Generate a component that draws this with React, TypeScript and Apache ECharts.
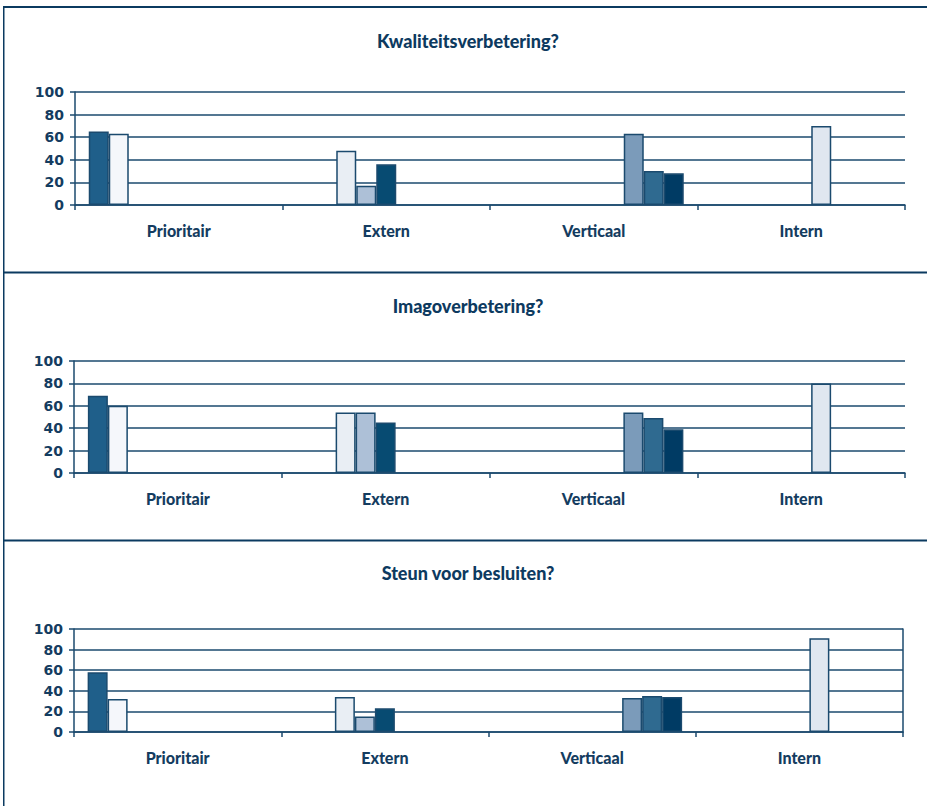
import React, { useEffect, useRef } from "react";
import * as echarts from "echarts";

const categories = ["Prioritair", "Extern", "Verticaal", "Intern"];
const titles = ["Kwaliteitsverbetering?", "Imagoverbetering?", "Steun voor besluiten?"];
const yTicks = [0, 20, 40, 60, 80, 100];

// values per panel (panel 1, panel 2, panel 3)
const prioritairA = [65, 69, 58];
const prioritairB = [63, 60, 32];
const externA = [48, 54, 34];
const externB = [17, 54, 15];
const externC = [36, 45, 23];
const internA = [70, 80, 91];
const verticaalA = [63, 54, 33];
const verticaalB = [30, 49, 35];
const verticaalC = [28, 39, 34];

// slot order inside each category group, with the category each belongs to
const slotValues = [prioritairA, prioritairB, externA, externB, externC, internA, verticaalA, verticaalB, verticaalC];
const slotCategory = [0, 0, 1, 1, 1, 3, 2, 2, 2];
const slotColors = ["#1f5f8a", "#f5f7fb", "#e9eef4", "#adc0d7", "#074b72", "#e0e7f0", "#7b9bba", "#2f6a90", "#003b64"];

const DARK = "#1b4a6e";
const TEXT = "#143c60";

const grids = [
  { left: 75, top: 92, height: 113, right: 22 },
  { left: 74, top: 361, height: 112, right: 22 },
  { left: 74, top: 629, height: 103, right: 24 },
];
const titleTops = [27, 292, 559];

export default function App() {
  const ref = useRef<HTMLDivElement>(null);
  useEffect(() => {
    if (!ref.current) return;
    const chart = echarts.init(ref.current, null, { renderer: "svg" });
    const xAxis: any[] = [];
    const yAxis: any[] = [];
    const series: any[] = [];
    grids.forEach((g, p) => {
      xAxis.push({
        type: "category",
        gridIndex: p,
        data: categories,
        axisLine: { show: true, lineStyle: { color: DARK, width: 1.5 } },
        axisTick: { show: true, length: 5, lineStyle: { color: DARK, width: 1.5 } },
        axisLabel: {
          color: TEXT,
          fontFamily: "Lato",
          fontWeight: 900,
          fontSize: 16,
          margin: 17,
        },
      });
      yAxis.push({
        type: "value",
        gridIndex: p,
        min: 0,
        max: 100,
        interval: 20,
        axisLine: { show: true, lineStyle: { color: DARK, width: 1.5 } },
        axisTick: { show: true, length: 5, lineStyle: { color: DARK, width: 1.5 } },
        splitLine: { show: true, lineStyle: { color: DARK, width: 1.5 } },
        axisLabel: {
          color: TEXT,
          fontFamily: "DejaVu Sans",
          fontWeight: "bold",
          fontSize: 14,
          margin: 11,
          formatter: (v: number) => (yTicks.includes(v) ? String(v) : ""),
        },
      });
      slotValues.forEach((vals, s) => {
        series.push({
          type: "bar",
          xAxisIndex: p,
          yAxisIndex: p,
          barWidth: 20,
          barGap: "0%",
          data: categories.map((_, c) => (c === slotCategory[s] ? vals[p] : null)),
          itemStyle: { color: slotColors[s], borderColor: DARK, borderWidth: 1.5 },
        });
      });
    });
    // right edge line of the last panel
    yAxis.push({
      type: "value",
      gridIndex: 2,
      position: "right",
      min: 0,
      max: 100,
      interval: 20,
      axisLine: { show: true, lineStyle: { color: DARK, width: 1.5 } },
      axisTick: { show: false },
      axisLabel: { show: false },
      splitLine: { show: false },
    });

    const graphic: any[] = [
      { type: "rect", shape: { x: 3, y: 6, width: 924, height: 2 }, style: { fill: "#0b3a60" } },
      { type: "rect", shape: { x: 3, y: 6, width: 1.5, height: 800 }, style: { fill: "#0b3a60" } },
      { type: "rect", shape: { x: 3, y: 271.5, width: 924, height: 2 }, style: { fill: "#0b3a60" } },
      { type: "rect", shape: { x: 3, y: 539.5, width: 924, height: 2 }, style: { fill: "#0b3a60" } },
    ];

    chart.setOption({
      animation: false,
      backgroundColor: "#ffffff",
      title: titles.map((t, i) => ({
        text: t,
        left: 463,
        textAlign: "center",
        top: titleTops[i],
        textStyle: { color: "#0d3a60", fontFamily: "Lato", fontWeight: 900, fontSize: 18 },
      })),
      grid: grids,
      xAxis,
      yAxis,
      series,
      graphic,
    });
    return () => chart.dispose();
  }, []);
  return (
    <div
      ref={ref}
      style={{ position: "fixed", left: 0, top: 0, width: 927, height: 806, background: "#fff" }}
    />
  );
}
